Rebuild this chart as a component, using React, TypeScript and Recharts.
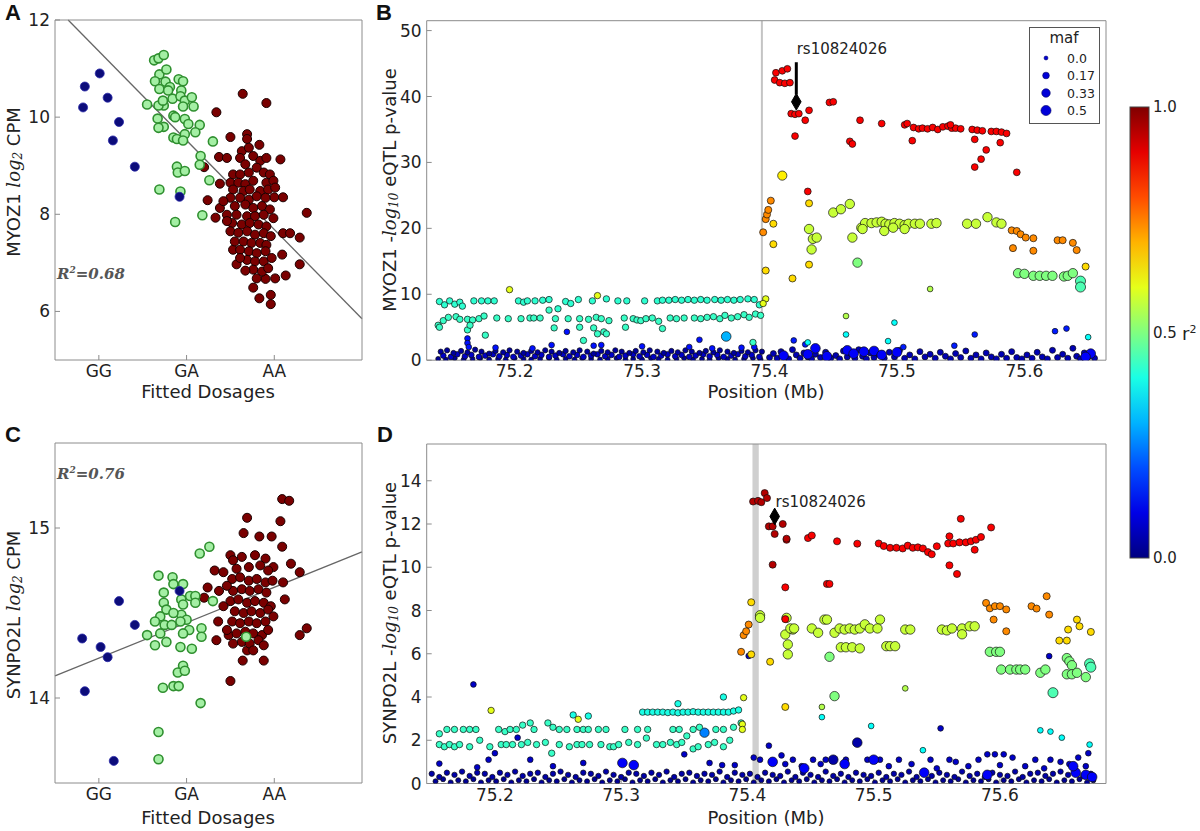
import React from 'react';
import {
  ScatterChart, Scatter, XAxis, YAxis, ZAxis,
  ReferenceLine, ReferenceArea, ReferenceDot,
} from 'recharts';

type Pt = [number, number];
type Group = { r2: number; maf: number; pts: Pt[] };

// ---------- Panel A : MYOZ1 log2 CPM vs fitted dosage ----------
const dosageTicks = [0, 1, 2];
const dosageLabels = ['GG', 'GA', 'AA'];
const aYTicks = [6, 8, 10, 12];
const aGG: Pt[] = [[-0.18, 10.2], [-0.16, 10.63], [0.01, 10.9], [0.1, 10.4], [0.23, 9.9], [0.16, 9.52], [0.41, 8.98], [0.92, 8.36]];
const aGA: Pt[] = [
  [0.63, 11.17], [0.68, 11.21], [0.74, 11.28], [0.69, 10.88], [0.77, 10.98], [0.64, 10.74], [0.76, 10.73], [0.81, 10.62],
  [0.69, 10.58], [0.79, 10.55], [0.91, 10.78], [0.96, 10.74], [0.94, 10.55], [0.84, 10.38], [0.93, 10.43], [0.98, 10.34],
  [1.06, 10.41], [1.08, 10.22], [0.96, 10.22], [0.85, 10.03], [0.87, 10.0], [0.74, 10.24], [0.68, 10.24], [0.55, 10.26],
  [0.73, 10.34], [0.67, 9.97], [0.74, 9.8], [0.98, 9.96], [1.02, 9.86], [1.15, 9.84], [1.1, 9.69], [0.85, 9.58],
  [0.89, 9.55], [0.98, 9.65], [0.96, 9.52], [1.3, 9.5], [1.16, 9.2], [1.15, 9.02], [1.26, 8.7], [0.89, 8.98],
  [0.9, 8.86], [0.98, 8.89], [0.93, 8.47], [0.69, 8.51], [0.87, 7.84], [1.18, 7.98], [0.68, 9.78],
];
const aAA: Pt[] = [
  [1.64, 10.48], [1.91, 10.29], [1.34, 10.1], [1.5, 9.59], [1.69, 9.65], [1.69, 9.55], [1.83, 9.43], [2.07, 9.13],
  [1.37, 9.18], [1.46, 9.16], [1.2, 8.97], [1.24, 8.29], [1.38, 8.63], [1.33, 7.93], [2.37, 8.03], [2.29, 7.52],
  [2.29, 6.97], [2.13, 6.74], [1.83, 6.27], [1.96, 6.34], [1.96, 6.15], [1.57, 6.97], [1.53, 7.27], [2.1, 7.61],
  [2.18, 7.61], [2.09, 7.17], [2.0, 8.35], [2.1, 8.35], [1.76, 6.49], [1.9, 6.67],
  [1.63, 9.3], [1.71, 9.37], [1.61, 9.16], [1.76, 9.2], [1.84, 9.1], [1.91, 9.16], [1.67, 9.03], [1.8, 8.96],
  [1.53, 8.82], [1.61, 8.82], [1.71, 8.86], [1.88, 8.86], [1.95, 8.82], [1.5, 8.65], [1.59, 8.65], [1.67, 8.62],
  [1.76, 8.69], [1.91, 8.65], [1.99, 8.69], [1.53, 8.51], [1.65, 8.48], [1.72, 8.51], [1.84, 8.48], [1.93, 8.51],
  [2.01, 8.55], [1.5, 8.34], [1.61, 8.34], [1.71, 8.3], [1.8, 8.37], [1.9, 8.34], [1.55, 8.17], [1.67, 8.2],
  [1.76, 8.13], [1.86, 8.17], [1.95, 8.1], [1.46, 7.99], [1.57, 7.99], [1.69, 7.96], [1.78, 7.96], [1.88, 7.99],
  [1.99, 7.92], [1.52, 7.82], [1.63, 7.79], [1.72, 7.82], [1.82, 7.79], [1.91, 7.75], [1.5, 7.65], [1.59, 7.62],
  [1.69, 7.65], [1.78, 7.58], [1.88, 7.61], [1.96, 7.55], [1.55, 7.44], [1.65, 7.44], [1.74, 7.41], [1.84, 7.41],
  [1.91, 7.37], [1.61, 7.27], [1.71, 7.24], [1.8, 7.2], [1.9, 7.24], [1.69, 7.06], [1.78, 7.03], [1.88, 7.03],
  [1.97, 7.1], [1.76, 6.86], [1.86, 6.82], [1.93, 6.89], [1.8, 6.68], [2.01, 6.68], [1.67, 6.84], [1.61, 7.1],
  [1.46, 7.86], [1.38, 8.13], [1.42, 8.27],
];
const aFit: Pt[] = [[-0.35, 12], [3, 5.85]];

// ---------- Panel C : SYNPO2L log2 CPM vs fitted dosage ----------
const cYTicks = [14, 15];
const cGG: Pt[] = [[-0.19, 14.35], [-0.16, 14.04], [0.02, 14.3], [0.1, 14.24], [0.23, 14.57], [0.41, 14.43], [0.17, 13.63], [0.92, 14.63]];
const cGA: Pt[] = [
  [0.68, 14.72], [0.84, 14.71], [0.96, 14.67], [0.85, 14.67], [0.74, 14.62], [0.94, 14.58], [1.04, 14.6], [1.1, 14.6],
  [1.1, 14.56], [1.15, 14.85], [1.26, 14.89], [0.96, 14.55], [0.74, 14.56], [0.77, 14.52], [0.94, 14.49], [0.85, 14.5],
  [0.7, 14.48], [1.0, 14.46], [0.64, 14.45], [0.75, 14.43], [0.83, 14.43], [0.93, 14.45], [1.03, 14.4], [0.55, 14.37],
  [0.7, 14.38], [0.96, 14.38], [1.17, 14.41], [1.17, 14.36], [0.64, 14.31], [0.77, 14.33], [0.93, 14.3], [1.06, 14.29],
  [0.96, 14.19], [0.9, 14.15], [0.98, 14.16], [0.73, 14.06], [0.85, 14.07], [0.91, 14.07], [1.16, 13.97], [0.68, 13.8],
  [0.68, 13.64], [1.68, 14.36], [1.3, 14.57],
];
const cAA: Pt[] = [
  [1.69, 15.06], [2.09, 15.17], [2.17, 15.16], [2.07, 15.04], [1.97, 14.95], [2.09, 14.89], [2.19, 14.79], [2.29, 14.74],
  [2.37, 14.41], [2.29, 14.37], [2.12, 14.58], [2.1, 14.68], [1.5, 14.1], [1.64, 14.22], [1.88, 14.22], [1.69, 14.28],
  [1.24, 14.65], [1.2, 14.59], [1.34, 14.34], [1.48, 14.37], [1.36, 14.45], [1.32, 14.75], [1.37, 14.63], [1.5, 14.84],
  [1.65, 14.97], [1.83, 14.95], [1.53, 14.81], [1.63, 14.83], [1.78, 14.84], [1.9, 14.82], [1.99, 14.77], [1.57, 14.76],
  [1.71, 14.77], [1.84, 14.78], [1.93, 14.75], [1.52, 14.7], [1.61, 14.71], [1.71, 14.69], [1.8, 14.7], [1.9, 14.68],
  [1.98, 14.69], [1.53, 14.63], [1.63, 14.64], [1.72, 14.63], [1.82, 14.64], [1.91, 14.62], [1.5, 14.57], [1.59, 14.58],
  [1.69, 14.56], [1.78, 14.57], [1.88, 14.56], [1.96, 14.54], [1.55, 14.51], [1.65, 14.5], [1.74, 14.51], [1.84, 14.5],
  [1.93, 14.52], [1.52, 14.45], [1.61, 14.44], [1.71, 14.45], [1.8, 14.44], [1.9, 14.45], [1.99, 14.48], [1.57, 14.38],
  [1.67, 14.39], [1.76, 14.38], [1.86, 14.37], [1.93, 14.4], [1.63, 14.33], [1.72, 14.32], [1.82, 14.34], [1.76, 14.28],
  [1.88, 14.31], [1.53, 14.32], [1.46, 14.4], [1.42, 14.54], [1.46, 14.66], [1.42, 14.74],
];
const cFit: Pt[] = [[-0.5, 14.13], [3, 14.86]];

// ---------- Panel B : MYOZ1 eQTL (position Mb, -log10 p) ----------
const bXTicks = [75.2, 75.3, 75.4, 75.5, 75.6];
const bYTicks = [0, 10, 20, 30, 40, 50];
const bLead: Pt = [75.421, 39.2];
const bNavyA: Group = { r2: 0.03, maf: 0.07, pts: [
  [75.142, 1.3], [75.147, 1.5], [75.152, 1.1], [75.158, 1.4], [75.163, 1.2], [75.169, 1.6], [75.174, 1.3], [75.180, 1.0],
  [75.185, 1.4], [75.191, 1.2], [75.196, 1.5], [75.202, 1.3], [75.207, 1.1], [75.213, 1.4], [75.218, 1.2], [75.224, 1.5],
  [75.229, 1.3], [75.235, 1.1], [75.240, 1.4], [75.246, 1.2], [75.251, 1.5], [75.257, 1.3], [75.262, 1.0], [75.268, 1.4],
  [75.273, 1.2], [75.279, 1.5], [75.284, 1.3], [75.290, 1.1], [75.295, 1.4], [75.301, 1.2], [75.306, 1.5], [75.312, 1.3],
  [75.317, 1.1], [75.323, 1.4], [75.328, 1.2], [75.334, 1.5], [75.339, 1.3], [75.345, 1.1], [75.350, 1.4], [75.356, 1.2],
  [75.361, 1.5], [75.367, 1.3], [75.372, 1.1], [75.378, 1.4], [75.383, 1.2], [75.389, 1.5], [75.394, 1.3],
] };
const bNavyB: Group = { r2: 0.07, maf: 0.1, pts: [
  [75.144, 0.7], [75.150, 0.5], [75.155, 0.9], [75.161, 0.6], [75.166, 0.8], [75.172, 0.5], [75.177, 0.7], [75.183, 0.9],
  [75.188, 0.6], [75.194, 0.8], [75.199, 0.5], [75.205, 0.7], [75.210, 0.9], [75.216, 0.6], [75.221, 0.8], [75.227, 0.5],
  [75.232, 0.7], [75.238, 0.9], [75.243, 0.6], [75.249, 0.8], [75.254, 0.5], [75.260, 0.7], [75.265, 0.9], [75.271, 0.6],
  [75.276, 0.8], [75.282, 0.5], [75.287, 0.7], [75.293, 0.9], [75.298, 0.6], [75.304, 0.8], [75.309, 0.5], [75.315, 0.7],
  [75.320, 0.9], [75.326, 0.6], [75.331, 0.8], [75.337, 0.5], [75.342, 0.7], [75.348, 0.9], [75.353, 0.6], [75.359, 0.8],
  [75.364, 0.5], [75.370, 0.7], [75.375, 0.9], [75.381, 0.6], [75.386, 0.8], [75.392, 0.5],
] };
const bNavyC: Group = { r2: 0.02, maf: 0.05, pts: [
  [75.140, 0.2], [75.146, 0.1], [75.153, 0.3], [75.160, 0.1], [75.167, 0.2], [75.173, 0.3], [75.180, 0.1], [75.187, 0.2],
  [75.193, 0.1], [75.200, 0.3], [75.207, 0.2], [75.213, 0.1], [75.220, 0.2], [75.227, 0.3], [75.233, 0.1], [75.240, 0.2],
  [75.247, 0.1], [75.253, 0.3], [75.260, 0.2], [75.267, 0.1], [75.273, 0.2], [75.280, 0.3], [75.287, 0.1], [75.293, 0.2],
  [75.300, 0.1], [75.307, 0.3], [75.313, 0.2], [75.320, 0.1], [75.327, 0.2], [75.333, 0.3], [75.340, 0.1], [75.347, 0.2],
  [75.353, 0.1], [75.360, 0.3], [75.367, 0.2], [75.373, 0.1], [75.380, 0.2], [75.387, 0.3], [75.393, 0.1],
] };
const bBlueLeft: Group = { r2: 0.14, maf: 0.1, pts: [
  [75.163, 3.3], [75.163, 2.6], [75.164, 2.0], [75.185, 1.9], [75.214, 1.8], [75.241, 4.3], [75.229, 2.3], [75.262, 2.2],
  [75.268, 2.3], [75.300, 2.1], [75.337, 2.0], [75.345, 3.1], [75.355, 1.8], [75.378, 1.9], [75.388, 2.0],
] };
const bCyan9: Group = { r2: 0.42, maf: 0.15, pts: [
  [75.141, 8.9], [75.145, 8.4], [75.149, 9.0], [75.153, 8.5], [75.157, 8.8], [75.159, 8.2], [75.168, 9.0], [75.174, 9.0],
  [75.179, 9.0], [75.184, 9.0], [75.203, 9.0], [75.207, 8.8], [75.210, 9.0], [75.216, 9.0], [75.222, 9.1], [75.227, 9.2],
  [75.234, 7.8], [75.240, 8.9], [75.244, 8.6], [75.250, 9.2], [75.261, 9.0], [75.272, 9.3], [75.281, 9.0], [75.288, 9.0],
  [75.302, 9.0], [75.312, 9.0], [75.316, 9.1], [75.321, 9.1], [75.326, 9.2], [75.331, 9.1], [75.336, 9.2], [75.341, 9.1],
  [75.346, 9.2], [75.351, 9.1], [75.357, 9.2], [75.362, 9.1], [75.367, 9.2], [75.372, 9.1], [75.377, 9.2], [75.383, 9.3],
  [75.388, 9.2], [75.392, 8.4],
] };
const bCyan6: Group = { r2: 0.43, maf: 0.15, pts: [
  [75.140, 5.3], [75.144, 6.0], [75.148, 6.5], [75.154, 6.6], [75.157, 6.2], [75.163, 6.2], [75.167, 6.1], [75.172, 6.3],
  [75.176, 6.7], [75.186, 6.4], [75.195, 6.3], [75.205, 6.3], [75.212, 6.4], [75.215, 6.4], [75.220, 6.4], [75.232, 6.3],
  [75.242, 6.3], [75.251, 6.3], [75.258, 6.2], [75.264, 6.5], [75.268, 6.3], [75.274, 6.0], [75.286, 6.4], [75.293, 6.3],
  [75.296, 6.1], [75.299, 6.0], [75.303, 6.3], [75.308, 6.4], [75.313, 5.9], [75.322, 6.4], [75.327, 6.3], [75.333, 6.4],
  [75.341, 6.4], [75.346, 6.3], [75.351, 6.5], [75.356, 6.6], [75.361, 6.3], [75.365, 6.8], [75.370, 6.4], [75.375, 6.6],
  [75.380, 6.9], [75.384, 6.5], [75.389, 7.0], [75.393, 6.8],
  [75.141, 5.0], [75.163, 4.6], [75.165, 5.3], [75.177, 3.8], [75.227, 7.6], [75.231, 4.9], [75.251, 5.0], [75.254, 3.0],
  [75.262, 4.9], [75.265, 4.0], [75.270, 4.3], [75.272, 4.0], [75.287, 5.0], [75.316, 4.8], [75.387, 2.7],
] };
const bYGLeft: Group = { r2: 0.6, maf: 0.15, pts: [[75.196, 10.7], [75.265, 9.8], [75.397, 9.3], [75.395, 8.6]] };
const bBlueBigLeft: Group = { r2: 0.3, maf: 0.45, pts: [[75.366, 3.6]] };
const bNavyRight: Group = { r2: 0.05, maf: 0.12, pts: [
  [75.400, 0.4], [75.403, 1.0], [75.406, 0.3], [75.409, 1.3], [75.412, 0.6], [75.415, 0.2], [75.418, 1.6], [75.421, 0.8],
  [75.424, 0.3], [75.427, 1.1], [75.430, 0.5], [75.433, 0.2], [75.436, 0.9], [75.440, 0.4], [75.444, 1.2], [75.448, 0.3],
  [75.452, 0.7], [75.455, 0.2], [75.458, 1.4], [75.461, 0.5], [75.464, 1.0], [75.467, 0.3], [75.470, 1.6], [75.473, 0.6],
  [75.476, 0.2], [75.479, 1.1], [75.482, 0.4], [75.486, 0.9], [75.490, 0.3], [75.494, 1.2], [75.498, 0.5], [75.502, 1.5],
  [75.506, 0.3], [75.510, 0.8], [75.514, 0.2], [75.518, 1.3], [75.522, 0.5], [75.526, 0.9], [75.530, 0.3], [75.534, 1.2],
  [75.538, 0.6], [75.542, 0.2], [75.546, 1.0], [75.550, 0.4], [75.554, 1.4], [75.558, 0.3], [75.562, 0.8], [75.566, 0.2],
  [75.570, 1.1], [75.574, 0.5], [75.578, 0.2], [75.582, 0.9], [75.586, 0.3], [75.590, 1.3], [75.594, 0.4], [75.598, 0.2],
  [75.602, 0.8], [75.606, 0.3], [75.610, 1.2], [75.614, 0.5], [75.618, 0.2], [75.622, 1.5], [75.626, 0.4], [75.630, 0.9],
  [75.634, 0.3], [75.638, 1.8], [75.641, 0.6], [75.644, 0.2], [75.647, 1.1], [75.650, 0.5], [75.653, 0.9], [75.655, 0.3],
] };
const bBlueRight: Group = { r2: 0.15, maf: 0.1, pts: [[75.561, 3.9], [75.624, 4.4], [75.633, 4.8], [75.419, 3.0], [75.428, 2.4], [75.505, 2.0], [75.545, 2.2]] };
const bBlueBigRight: Group = { r2: 0.12, maf: 0.45, pts: [
  [75.461, 1.5], [75.466, 1.0], [75.474, 1.3], [75.482, 1.4], [75.488, 0.8], [75.445, 0.6], [75.430, 0.9], [75.500, 1.2],
  [75.652, 1.0], [75.648, 0.5], [75.411, 0.7], [75.436, 1.8],
] };
const bCyanRight: Group = { r2: 0.38, maf: 0.1, pts: [[75.498, 5.7], [75.460, 3.9], [75.650, 3.5], [75.493, 2.9], [75.430, 2.7]] };
const bGreenSmall: Group = { r2: 0.55, maf: 0.1, pts: [[75.526, 10.8], [75.460, 6.7]] };
const bRed: Group = { r2: 0.88, maf: 0.18, pts: [
  [75.405, 43.6], [75.410, 43.9], [75.414, 44.2], [75.404, 42.5], [75.408, 42.1], [75.412, 42.0], [75.416, 42.1], [75.417, 37.4],
  [75.420, 37.3], [75.423, 37.4], [75.420, 34.0], [75.428, 36.4], [75.431, 37.9], [75.447, 39.1], [75.450, 39.2], [75.471, 36.4],
  [75.488, 35.9], [75.463, 33.2], [75.465, 32.8], [75.506, 35.7], [75.508, 35.9], [75.512, 33.3], [75.513, 35.3], [75.517, 35.1],
  [75.520, 35.2], [75.524, 35.1], [75.528, 35.3], [75.532, 35.0], [75.536, 35.4], [75.540, 35.5], [75.543, 35.2], [75.546, 35.2],
  [75.550, 35.1], [75.542, 35.7], [75.559, 35.0], [75.563, 34.9], [75.567, 34.8], [75.574, 34.7], [75.578, 34.7], [75.582, 34.6],
  [75.586, 34.4], [75.561, 33.5], [75.581, 33.0], [75.570, 31.9], [75.566, 30.5], [75.561, 29.3], [75.594, 28.5], [75.430, 25.6],
] };
const bOrange: Group = { r2: 0.74, maf: 0.2, pts: [
  [75.395, 19.4], [75.397, 21.4], [75.398, 22.1], [75.399, 22.8], [75.401, 24.2], [75.590, 19.7], [75.594, 19.6], [75.597, 19.1],
  [75.601, 18.6], [75.607, 18.5], [75.591, 17.0], [75.607, 16.6], [75.626, 18.2], [75.630, 18.2], [75.638, 17.8], [75.641, 16.7],
] };
const bYellow: Group = { r2: 0.66, maf: 0.2, pts: [[75.403, 20.7], [75.403, 17.6], [75.397, 13.6], [75.418, 12.4], [75.431, 23.8], [75.431, 14.5], [75.648, 14.2]] };
const bYellowBig: Group = { r2: 0.64, maf: 0.4, pts: [[75.410, 28.0]] };
const bYG: Group = { r2: 0.57, maf: 0.42, pts: [
  [75.431, 19.9], [75.434, 18.4], [75.437, 18.6], [75.433, 16.8], [75.450, 22.4], [75.456, 22.9], [75.463, 23.7], [75.465, 18.6],
  [75.472, 20.1], [75.475, 20.8], [75.480, 20.8], [75.484, 20.9], [75.488, 21.0], [75.491, 20.7], [75.494, 20.6], [75.498, 20.8],
  [75.502, 20.7], [75.506, 20.5], [75.509, 20.7], [75.514, 20.7], [75.518, 20.7], [75.527, 20.7], [75.531, 20.8], [75.490, 19.6],
  [75.473, 19.9], [75.497, 20.1], [75.506, 19.9], [75.555, 20.7], [75.562, 20.7], [75.571, 21.7], [75.578, 20.9], [75.582, 20.7],
] };
const bGreen: Group = { r2: 0.5, maf: 0.42, pts: [
  [75.469, 14.8], [75.595, 13.2], [75.600, 13.1], [75.607, 12.8], [75.612, 12.8], [75.617, 12.8], [75.622, 12.8], [75.631, 12.7],
  [75.634, 12.8], [75.638, 13.2],
] };
const bCyanBig: Group = { r2: 0.45, maf: 0.5, pts: [[75.644, 12.0], [75.644, 11.1]] };
const bGroups: Group[] = [
  bNavyC, bNavyB, bNavyA, bBlueLeft, bNavyRight, bBlueBigRight, bBlueRight, bBlueBigLeft, bCyanRight, bCyan6, bCyan9,
  bGreenSmall, bYGLeft, bGreen, bCyanBig, bYG, bYellowBig, bYellow, bOrange, bRed,
];

// ---------- Panel D : SYNPO2L eQTL ----------
const dXTicks = [75.2, 75.3, 75.4, 75.5, 75.6];
const dYTicks = [0, 2, 4, 6, 8, 10, 12, 14];
const dLead: Pt = [75.4216, 12.35];
const dNavyA: Group = { r2: 0.04, maf: 0.08, pts: [
  [75.150, 0.45], [75.156, 0.3], [75.162, 0.5], [75.168, 0.4], [75.174, 0.55], [75.180, 0.35], [75.186, 0.5], [75.192, 0.45],
  [75.198, 0.3], [75.204, 0.5], [75.210, 0.4], [75.216, 0.55], [75.222, 0.35], [75.228, 0.45], [75.234, 0.5], [75.240, 0.3],
  [75.246, 0.45], [75.252, 0.55], [75.258, 0.4], [75.264, 0.3], [75.270, 0.5], [75.276, 0.45], [75.282, 0.35], [75.288, 0.55],
  [75.294, 0.4], [75.300, 0.3], [75.306, 0.5], [75.312, 0.45], [75.318, 0.35], [75.324, 0.5], [75.330, 0.4], [75.336, 0.55],
  [75.342, 0.3], [75.348, 0.45], [75.354, 0.5], [75.360, 0.35], [75.366, 0.45], [75.372, 0.4], [75.378, 0.55], [75.384, 0.3],
  [75.390, 0.5], [75.396, 0.4], [75.402, 0.45], [75.408, 0.3], [75.414, 0.5], [75.420, 0.4], [75.426, 0.35], [75.432, 0.55],
  [75.438, 0.3], [75.444, 0.5], [75.450, 0.4], [75.456, 0.3], [75.462, 0.55], [75.468, 0.35], [75.474, 0.45], [75.480, 0.3],
  [75.486, 0.5], [75.492, 0.4], [75.498, 0.35], [75.504, 0.5], [75.510, 0.3], [75.516, 0.45], [75.522, 0.4], [75.528, 0.55],
  [75.534, 0.3], [75.540, 0.45], [75.546, 0.35], [75.552, 0.5], [75.558, 0.4], [75.564, 0.3], [75.570, 0.55], [75.576, 0.35],
  [75.582, 0.45], [75.588, 0.3], [75.594, 0.5], [75.600, 0.4], [75.606, 0.35], [75.612, 0.55], [75.618, 0.3], [75.624, 0.45],
  [75.630, 0.5], [75.636, 0.35], [75.642, 0.45], [75.648, 0.55], [75.654, 0.4], [75.660, 0.5], [75.666, 0.35], [75.672, 0.45],
] };
const dNavyB: Group = { r2: 0.02, maf: 0.06, pts: [
  [75.153, 0.1], [75.159, 0.2], [75.165, 0.05], [75.171, 0.15], [75.177, 0.1], [75.183, 0.2], [75.189, 0.05], [75.195, 0.15],
  [75.201, 0.1], [75.207, 0.2], [75.213, 0.05], [75.219, 0.15], [75.225, 0.1], [75.231, 0.2], [75.237, 0.05], [75.243, 0.15],
  [75.249, 0.1], [75.255, 0.2], [75.261, 0.05], [75.267, 0.15], [75.273, 0.1], [75.279, 0.2], [75.285, 0.05], [75.291, 0.15],
  [75.297, 0.1], [75.303, 0.2], [75.309, 0.05], [75.315, 0.15], [75.321, 0.1], [75.327, 0.2], [75.333, 0.05], [75.339, 0.15],
  [75.345, 0.1], [75.351, 0.2], [75.357, 0.05], [75.363, 0.15], [75.369, 0.1], [75.375, 0.2], [75.381, 0.05], [75.387, 0.15],
  [75.393, 0.1], [75.399, 0.2], [75.405, 0.05], [75.411, 0.15], [75.417, 0.1], [75.423, 0.2], [75.429, 0.05], [75.435, 0.15],
  [75.441, 0.1], [75.447, 0.2], [75.453, 0.05], [75.459, 0.15], [75.465, 0.1], [75.471, 0.2], [75.477, 0.05], [75.483, 0.15],
  [75.489, 0.1], [75.495, 0.2], [75.501, 0.05], [75.507, 0.15], [75.513, 0.1], [75.519, 0.2], [75.525, 0.05], [75.531, 0.15],
  [75.537, 0.1], [75.543, 0.2], [75.549, 0.05], [75.555, 0.15], [75.561, 0.1], [75.567, 0.2], [75.573, 0.05], [75.579, 0.15],
  [75.585, 0.1], [75.591, 0.2], [75.597, 0.05], [75.603, 0.15], [75.609, 0.1], [75.615, 0.2], [75.621, 0.05], [75.627, 0.15],
  [75.633, 0.1], [75.639, 0.2], [75.645, 0.05], [75.651, 0.15], [75.657, 0.1], [75.663, 0.2], [75.669, 0.05], [75.674, 0.15],
] };
const dNavyMid: Group = { r2: 0.07, maf: 0.1, pts: [
  [75.156, 0.92], [75.195, 1.1], [75.200, 1.4], [75.218, 2.12], [75.228, 1.1], [75.186, 0.75], [75.270, 0.95], [75.246, 0.8],
  [75.350, 1.35], [75.370, 0.95], [75.380, 0.85], [75.390, 0.85], [75.405, 1.2], [75.410, 1.1], [75.417, 1.75], [75.427, 1.3],
  [75.430, 0.9], [75.436, 1.1], [75.443, 0.8], [75.452, 1.1], [75.458, 0.9], [75.462, 1.1], [75.478, 1.1], [75.495, 1.1],
  [75.505, 1.1], [75.512, 0.8], [75.520, 1.1], [75.530, 0.9], [75.545, 1.1], [75.550, 0.7], [75.560, 1.1], [75.565, 1.0],
  [75.575, 0.8], [75.583, 1.1], [75.590, 1.35], [75.596, 1.35], [75.600, 0.85], [75.603, 1.35], [75.610, 1.2], [75.620, 0.8],
  [75.628, 1.1], [75.635, 0.7], [75.640, 1.1], [75.648, 1.0], [75.655, 0.9], [75.662, 1.2], [75.668, 0.8], [75.670, 1.4],
  [75.553, 2.55], [75.639, 5.89], [75.183, 4.58], [75.401, 5.9],
] };
const dBlueBig: Group = { r2: 0.12, maf: 0.45, pts: [
  [75.301, 0.95], [75.310, 0.85], [75.420, 1.0], [75.477, 0.9], [75.500, 1.1], [75.445, 0.7], [75.660, 0.5], [75.668, 0.4],
  [75.673, 0.3], [75.658, 0.8], [75.540, 0.5], [75.590, 0.4],
] };
const dNavyBig: Group = { r2: 0.04, maf: 0.45, pts: [[75.487, 1.89], [75.468, 1.1]] };
const dCyan25: Group = { r2: 0.43, maf: 0.15, pts: [
  [75.156, 2.3], [75.162, 2.5], [75.168, 2.5], [75.175, 2.5], [75.180, 2.5], [75.185, 2.5], [75.203, 2.5], [75.208, 2.4],
  [75.212, 2.5], [75.217, 2.5], [75.222, 2.7], [75.228, 2.8], [75.231, 2.5], [75.242, 2.8], [75.246, 2.6], [75.251, 2.5],
  [75.257, 2.5], [75.265, 2.5], [75.270, 2.5], [75.274, 2.5], [75.282, 2.5], [75.288, 2.5], [75.303, 2.5], [75.313, 2.5],
  [75.321, 2.5], [75.341, 2.5], [75.346, 2.5], [75.357, 2.5], [75.362, 2.6], [75.375, 2.5], [75.381, 2.5], [75.389, 2.6],
  [75.395, 2.8],
] };
const dCyan18: Group = { r2: 0.43, maf: 0.15, pts: [
  [75.156, 1.8], [75.160, 1.7], [75.164, 1.8], [75.168, 1.7], [75.172, 1.8], [75.180, 1.7], [75.188, 2.0], [75.196, 1.7],
  [75.205, 1.8], [75.209, 1.8], [75.214, 1.8], [75.221, 1.8], [75.226, 1.9], [75.233, 1.8], [75.240, 1.9], [75.245, 1.4],
  [75.251, 1.8], [75.259, 1.7], [75.265, 1.8], [75.269, 1.8], [75.275, 1.8], [75.284, 1.8], [75.291, 1.7], [75.294, 1.7],
  [75.298, 1.8], [75.306, 1.9], [75.313, 1.8], [75.320, 2.1], [75.328, 1.8], [75.333, 1.8], [75.339, 1.9], [75.344, 1.8],
  [75.348, 1.9], [75.352, 2.2], [75.357, 1.6], [75.361, 1.7], [75.369, 1.8], [75.374, 1.9], [75.381, 1.7], [75.386, 2.0],
] };
const dCyan33: Group = { r2: 0.4, maf: 0.15, pts: [
  [75.317, 3.3], [75.321, 3.3], [75.325, 3.3], [75.329, 3.3], [75.333, 3.3], [75.337, 3.28], [75.341, 3.3], [75.345, 3.27],
  [75.349, 3.3], [75.353, 3.3], [75.357, 3.32], [75.361, 3.3], [75.365, 3.3], [75.369, 3.3], [75.373, 3.3], [75.377, 3.3],
  [75.381, 3.3], [75.385, 3.3], [75.389, 3.35], [75.393, 3.4], [75.345, 3.69], [75.381, 4.0], [75.262, 3.17], [75.274, 3.12],
] };
const dYGSmall: Group = { r2: 0.6, maf: 0.15, pts: [[75.197, 3.38], [75.266, 2.97], [75.397, 3.97], [75.396, 2.74], [75.396, 2.5]] };
const dBigBlueLeft: Group = { r2: 0.25, maf: 0.42, pts: [[75.366, 2.35]] };
const dCyanSmall: Group = { r2: 0.38, maf: 0.1, pts: [[75.459, 3.07], [75.498, 2.66], [75.640, 2.4], [75.632, 2.46], [75.649, 2.12], [75.671, 1.8], [75.539, 1.54]] };
const dGreenSmall: Group = { r2: 0.55, maf: 0.1, pts: [[75.525, 4.4], [75.459, 3.54]] };
const dRedDark: Group = { r2: 0.95, maf: 0.2, pts: [
  [75.4045, 13.04], [75.4084, 13.07], [75.411, 13.01], [75.4137, 13.43], [75.4155, 13.2], [75.417, 11.89], [75.420, 11.89],
  [75.4216, 11.54], [75.428, 12.0], [75.431, 11.32], [75.420, 10.12],
] };
const dRed: Group = { r2: 0.88, maf: 0.2, pts: [
  [75.430, 9.07], [75.431, 11.27], [75.448, 11.35], [75.451, 11.47], [75.471, 11.2], [75.487, 11.09], [75.504, 11.1], [75.508, 10.98],
  [75.513, 10.9], [75.518, 10.9], [75.523, 10.87], [75.527, 11.0], [75.531, 10.9], [75.535, 10.92], [75.539, 10.87], [75.543, 10.7],
  [75.546, 10.6], [75.550, 10.97], [75.560, 11.43], [75.559, 11.1], [75.563, 11.1], [75.568, 11.15], [75.573, 11.15], [75.577, 11.2],
  [75.581, 11.27], [75.585, 11.4], [75.580, 10.81], [75.560, 10.09], [75.566, 9.69], [75.569, 12.24], [75.593, 11.84], [75.463, 9.23],
  [75.465, 9.23], [75.430, 7.6],
] };
const dOrange: Group = { r2: 0.74, maf: 0.2, pts: [
  [75.395, 6.09], [75.397, 6.86], [75.399, 7.04], [75.401, 7.35], [75.589, 8.35], [75.592, 8.1], [75.596, 8.2], [75.600, 8.2],
  [75.605, 8.05], [75.595, 7.58], [75.605, 7.04], [75.625, 8.2], [75.629, 8.09], [75.637, 8.66], [75.639, 7.81],
] };
const dYellow: Group = { r2: 0.66, maf: 0.2, pts: [
  [75.403, 8.38], [75.403, 5.97], [75.418, 5.63], [75.430, 3.54], [75.647, 6.61], [75.653, 6.61], [75.654, 7.12], [75.661, 7.58],
  [75.663, 7.27], [75.672, 7.01],
] };
const dYG: Group = { r2: 0.57, maf: 0.42, pts: [
  [75.410, 7.78], [75.410, 7.66], [75.430, 6.89], [75.436, 7.12], [75.432, 6.43], [75.432, 5.97], [75.431, 7.66], [75.434, 7.17],
  [75.437, 7.17], [75.451, 7.17], [75.456, 6.97], [75.461, 7.58], [75.463, 7.58], [75.469, 6.97], [75.473, 7.17], [75.477, 7.12],
  [75.481, 7.17], [75.485, 7.12], [75.489, 7.17], [75.493, 7.36], [75.497, 7.17], [75.505, 7.58], [75.503, 7.17], [75.474, 6.3],
  [75.478, 6.3], [75.483, 6.3], [75.489, 6.25], [75.510, 6.35], [75.513, 6.35], [75.517, 6.35], [75.525, 7.12], [75.529, 7.12],
  [75.554, 7.12], [75.558, 7.08], [75.562, 7.17], [75.570, 7.17], [75.570, 6.9], [75.576, 7.27], [75.580, 7.27],
] };
const dGreen: Group = { r2: 0.5, maf: 0.42, pts: [
  [75.465, 5.86], [75.469, 4.04], [75.592, 6.09], [75.597, 6.09], [75.600, 6.09], [75.601, 5.27], [75.608, 5.27], [75.613, 5.27],
  [75.616, 5.27], [75.620, 5.27], [75.632, 5.12], [75.636, 5.27], [75.653, 5.8], [75.655, 5.65], [75.657, 5.47], [75.653, 5.05],
  [75.657, 5.05], [75.661, 5.12], [75.668, 4.92],
] };
const dCyanBig: Group = { r2: 0.45, maf: 0.5, pts: [[75.642, 4.2], [75.671, 5.54], [75.672, 5.38]] };
const dGroups: Group[] = [
  dNavyB, dNavyA, dNavyMid, dBlueBig, dNavyBig, dBigBlueLeft, dCyanSmall, dCyan18, dCyan25, dCyan33, dYGSmall,
  dGreenSmall, dGreen, dCyanBig, dYG, dYellow, dOrange, dRed, dRedDark,
];

// ---------- colour bar / legend ----------
const cbarTicks = [1.0, 0.5, 0.0];
const mafLegend = [0.0, 0.17, 0.33, 0.5];

const jet = (t: number) => {
  const c = (v: number) => Math.round(255 * Math.max(0, Math.min(1, v)));
  return `rgb(${c(1.5 - Math.abs(4 * t - 3))},${c(1.5 - Math.abs(4 * t - 2))},${c(1.5 - Math.abs(4 * t - 1))})`;
};
const MAF_RANGE: [number, number] = [12, 80];
const mafRadius = (m: number) => Math.sqrt((MAF_RANGE[0] + (m / 0.5) * (MAF_RANGE[1] - MAF_RANGE[0])) / Math.PI);

const FONT = 'DejaVu Sans';
const tickStyle = { fontSize: 17, fill: '#222', fontFamily: FONT };
const AX = '#8c8c8c';

const toXY = (p: Pt[]) => p.map(([x, y]) => ({ x, y }));
const toXYZ = (g: Group) => g.pts.map(([x, y]) => ({ x, y, z: g.maf }));

function frame(xd: [number, number], xt: number[], yd: [number, number], yt: number[], xh: number, yw: number, xfmt?: (v: number) => string) {
  return [
    <XAxis key="xb" type="number" dataKey="x" domain={xd} ticks={xt} interval={0} allowDataOverflow height={xh}
      tickSize={-5} tickMargin={10} stroke={AX} tick={tickStyle} tickFormatter={xfmt} />,
    <YAxis key="yl" type="number" dataKey="y" domain={yd} ticks={yt} interval={0} allowDataOverflow width={yw}
      tickSize={-5} tickMargin={10} stroke={AX} tick={tickStyle} />,
    <XAxis key="xt" xAxisId="top" orientation="top" type="number" domain={xd} ticks={xt} interval={0} allowDataOverflow height={1}
      tickSize={-5} stroke={AX} tick={false as any} />,
    <YAxis key="yr" yAxisId="right" orientation="right" type="number" domain={yd} ticks={yt} interval={0} allowDataOverflow width={1}
      tickSize={-5} stroke={AX} tick={false as any} />,
  ];
}

const dosFmt = (v: number) => dosageLabels[dosageTicks.indexOf(v)] ?? '';
const mbFmt = (v: number) => v.toFixed(1);

function DosagePanel(props: { gg: Pt[]; ga: Pt[]; aa: Pt[]; fit: Pt[]; yd: [number, number]; yt: number[]; top: number; h: number; mt: number }) {
  const { gg, ga, aa, fit, yd, yt, top, h, mt } = props;
  return (
    <div style={{ position: 'absolute', left: 0, top, width: 380, height: h }}>
      <ScatterChart width={380} height={h} margin={{ top: mt - 1, right: 17, bottom: 0, left: 0 }}>
        {frame([-0.5, 3], dosageTicks, yd, yt, h - mt - 340, 55, dosFmt)}
        <Scatter data={toXY(aa)} fill="#7a0000" stroke="#1a0000" strokeWidth={1} isAnimationActive={false} />
        <Scatter data={toXY(ga)} fill="#a4efa4" stroke="#2f8f2f" strokeWidth={1.6} isAnimationActive={false} />
        <Scatter data={toXY(gg)} fill="#0c0c7a" stroke="#2a2aa8" strokeWidth={0.8} isAnimationActive={false} />
        <ReferenceLine segment={[{ x: fit[0][0], y: fit[0][1] }, { x: fit[1][0], y: fit[1][1] }]} stroke="#666" strokeWidth={1.3} ifOverflow="visible" />
      </ScatterChart>
    </div>
  );
}

function EqtlPanel(props: { groups: Group[]; lead: Pt; xd: [number, number]; yd: [number, number]; yt: number[]; top: number; h: number; mt: number; band: 'B' | 'D' }) {
  const { groups, lead, xd, yd, yt, top, h, mt, band } = props;
  return (
    <div style={{ position: 'absolute', left: 380, top, width: 740, height: h }}>
      <ScatterChart width={740} height={h} margin={{ top: mt - 1, right: 13, bottom: 0, left: 0 }}>
        {frame(xd, band === 'B' ? bXTicks : dXTicks, yd, yt, h - mt - 339.5, 46.7, mbFmt)}
        <ZAxis type="number" dataKey="z" domain={[0, 0.5]} range={MAF_RANGE} />
        {band === 'B'
          ? <ReferenceLine x={75.394} stroke="#c4c4c4" strokeWidth={2} />
          : <ReferenceArea x1={75.404} x2={75.409} fill="#cfcfcf" fillOpacity={1} stroke="none" />}
        {groups.map((g, i) => (
          <Scatter key={i} data={toXYZ(g)} fill={jet(g.r2)} stroke="#101010" strokeWidth={0.7} isAnimationActive={false} />
        ))}
        {band === 'B' && (
          <ReferenceLine segment={[{ x: lead[0], y: 45.2 }, { x: lead[0], y: 40.3 }]} stroke="#000" strokeWidth={3} ifOverflow="visible" />
        )}
        <Scatter data={[{ x: lead[0], y: lead[1], z: 0.5 }]} shape="diamond" fill="#000" stroke="#000" isAnimationActive={false} />
        <ReferenceDot x={band === 'B' ? 75.4205 : 75.4215} y={band === 'B' ? 47.2 : 13.05} r={1} fill="none" stroke="none"
          label={{ value: 'rs10824026', position: 'right', offset: 0, fill: '#222', fontSize: 15, fontFamily: FONT }} />
      </ScatterChart>
    </div>
  );
}

function Overlay() {
  const lab = { fontFamily: FONT, fontSize: 18, fill: '#222' } as const;
  const math = { fontFamily: 'DejaVu Serif', fontStyle: 'italic' } as const;
  const yLabel = (x: number, y: number, gene: string, base: string, sub: string, tail: string) => (
    <text x={x} y={y} transform={`rotate(-90 ${x} ${y})`} textAnchor="middle" dominantBaseline="central" {...lab}>
      {gene}
      <tspan {...math}>{base}</tspan>
      <tspan fontSize={12} dy={5} {...math}>{sub}</tspan>
      <tspan dy={-5}>{tail}</tspan>
    </text>
  );
  const r2 = (x: number, y: number, v: string) => (
    <text x={x} y={y} fontFamily="DejaVu Serif" fontStyle="italic" fontWeight="bold" fontSize={15} fill="#555">
      R<tspan dy={-6} fontSize={9}>2</tspan><tspan dy={6}>{v}</tspan>
    </text>
  );
  const letter = { fontFamily: 'Liberation Sans', fontWeight: 'bold', fontSize: 22, fill: '#111' } as const;
  const stops = [0, 0.1, 0.2, 0.3, 0.4, 0.5, 0.6, 0.7, 0.8, 0.9, 1];
  const cbTop = 107, cbBot = 558;
  return (
    <svg width={1200} height={831} style={{ position: 'absolute', left: 0, top: 0, pointerEvents: 'none' }}>
      <defs>
        <linearGradient id="jetGrad" x1="0" y1="1" x2="0" y2="0">
          {stops.map((s) => <stop key={s} offset={s} stopColor={jet(s)} />)}
        </linearGradient>
      </defs>
      <text x={5} y={20} {...letter}>A</text>
      <text x={376} y={20} {...letter}>B</text>
      <text x={5} y={442} {...letter}>C</text>
      <text x={377} y={442} {...letter}>D</text>

      {yLabel(13, 182, 'MYOZ1 ', 'log', '2', ' CPM')}
      {yLabel(13, 615, 'SYNPO2L ', 'log', '2', ' CPM')}
      {yLabel(389, 190, 'MYOZ1 -', 'log', '10', ' eQTL p-value')}
      {yLabel(389, 613, 'SYNPO2L -', 'log', '10', ' eQTL p-value')}

      <text x={208} y={398} textAnchor="middle" {...lab}>Fitted Dosages</text>
      <text x={208} y={824} textAnchor="middle" {...lab}>Fitted Dosages</text>
      <text x={766} y={398} textAnchor="middle" {...lab}>Position (Mb)</text>
      <text x={766} y={824} textAnchor="middle" {...lab}>Position (Mb)</text>

      {r2(57, 279, '=0.68')}
      {r2(57, 479, '=0.76')}

      <rect x={1029.5} y={27.5} width={70} height={96} fill="#fff" stroke="#555" />
      <text x={1064} y={43} textAnchor="middle" fontFamily={FONT} fontSize={15} fill="#222">maf</text>
      {mafLegend.map((m, i) => (
        <g key={m}>
          <circle cx={1046} cy={58 + i * 17.5} r={mafRadius(m)} fill="#0000d8" stroke="#000060" strokeWidth={0.6} />
          <text x={1067} y={62.5 + i * 17.5} fontFamily={FONT} fontSize={12.5} fill="#222">{m.toFixed(m === 0 || m === 0.5 ? 1 : 2)}</text>
        </g>
      ))}

      <rect x={1130} y={cbTop} width={19} height={cbBot - cbTop} fill="url(#jetGrad)" stroke="#444" strokeWidth={1} />
      {cbarTicks.map((t) => (
        <text key={t} x={1153} y={cbBot - t * (cbBot - cbTop) + 5} fontFamily={FONT} fontSize={15} fill="#222">{t.toFixed(1)}</text>
      ))}
      <text x={1182} y={340} fontFamily={FONT} fontSize={18} fill="#222">r<tspan dy={-7} fontSize={11}>2</tspan></text>
    </svg>
  );
}

export default function App() {
  return (
    <div style={{ position: 'absolute', left: 0, top: 0, width: 1200, height: 831, background: '#fff', overflow: 'hidden' }}>
      <DosagePanel gg={aGG} ga={aGA} aa={aAA} fit={aFit} yd={[5, 12]} yt={aYTicks} top={0} h={400} mt={20} />
      <DosagePanel gg={cGG} ga={cGA} aa={cAA} fit={cFit} yd={[13.5, 15.5]} yt={cYTicks} top={400} h={431} mt={43} />
      <EqtlPanel groups={bGroups} lead={bLead} xd={[75.131, 75.664]} yd={[0, 51.5]} yt={bYTicks} top={0} h={400} mt={20.7} band="B" />
      <EqtlPanel groups={dGroups} lead={dLead} xd={[75.146, 75.684]} yd={[0, 15.7]} yt={dYTicks} top={400} h={431} mt={44} band="D" />
      <Overlay />
    </div>
  );
}
